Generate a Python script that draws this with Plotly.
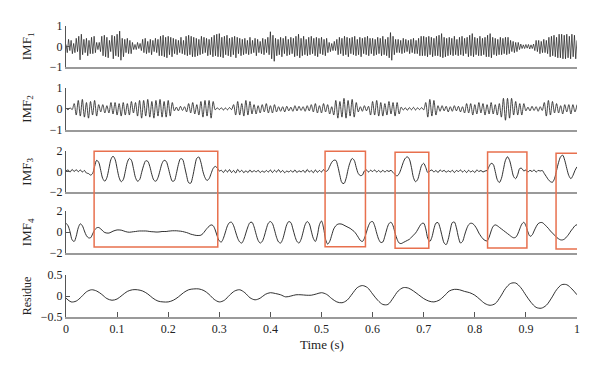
import plotly.graph_objects as go

# ---------------- data ----------------
x_ticks = [0, 0.1, 0.2, 0.3, 0.4, 0.5, 0.6, 0.7, 0.8, 0.9, 1]
x_tick_labels = ["0", "0.1", "0.2", "0.3", "0.4", "0.5", "0.6", "0.7", "0.8", "0.9", "1"]
x_title = "Time (s)"

# IMF1 sampled every 2.5 ms from t=0 to t=1
imf1 = [
    .1, -.3, .35, -.2, .3, -.35, .15, -.3, .4, -.25, .5, -.65, .6, -.4, .35, -.3, .4, -.45, .3, -.35,
    .45, -.35, .5, -.3, .2, -.15, .2, -.25, .5, -.45, .55, -.5, .45, -.55, .3, -.25, .55, -.6, .5, -.45,
    .6, -.5, .75, -.67, .4, -.5, .35, -.3, .4, -.35, .3, -.35, .2, -.15, .1, -.15, .2, -.1, .15, -.2,
    .35, -.3, .4, -.35, .25, -.3, .35, -.4, .3, -.25, .4, -.3, .35, -.45, .5, -.45, .55, -.5, .45, -.55,
    .5, -.4, .45, -.5, .4, -.35, .35, -.4, .3, -.3, .45, -.35, .3, -.4, .5, -.45, .55, -.4, .5, -.5,
    .45, -.5, .4, -.45, .35, -.4, .5, -.35, .45, -.3, .4, -.45, .35, -.4, .45, -.5, .55, -.45, .6, -.5,
    .63, -.5, .45, -.55, .5, -.4, .55, -.45, .4, -.5, .45, -.4, .5, -.55, .45, -.35, .4, -.45, .35, -.4,
    .4, -.35, .3, -.4, .45, -.35, .3, -.3, .4, -.45, .35, -.3, .25, -.35, .4, -.4, .35, -.3, .45, -.4,
    .72, -.6, .55, -.72, .4, -.45, .35, -.4, .45, -.5, .4, -.35, .5, -.45, .35, -.4, .45, -.35, .4, -.5,
    .5, -.45, .6, -.55, .4, -.45, .5, -.4, .35, -.45, .45, -.4, .5, -.35, .4, -.45, .45, -.5, .4, -.35,
    .45, -.4, .35, -.45, .4, -.3, .2, -.25, .15, -.2, .25, -.2, .35, -.4, .45, -.35, .4, -.45, .5, -.4,
    .45, -.5, .4, -.35, .45, -.4, .5, -.45, .35, -.4, .45, -.5, .4, -.35, .45, -.4, .5, -.45, .4, -.35,
    .4, -.45, .35, -.4, .45, -.35, .4, -.45, .5, -.4, .35, -.45, .45, -.55, .68, -.67, .5, -.4, .35, -.3,
    .35, -.3, .3, -.35, .4, -.3, .35, -.25, .3, -.35, .35, -.3, .4, -.35, .3, -.35, .4, -.45, .5, -.45,
    .5, -.45, .45, -.5, .5, -.4, .45, -.5, .4, -.45, .5, -.45, .55, -.5, .63, -.55, .45, -.5, .4, -.45,
    .45, -.4, .4, -.45, .5, -.4, .35, -.45, .45, -.4, .5, -.45, .4, -.35, .45, -.5, .55, -.45, .63, -.5,
    .45, -.4, .4, -.45, .5, -.45, .4, -.4, .45, -.5, .55, -.5, .63, -.55, .45, -.4, .4, -.45, .35, -.4,
    .45, -.4, .4, -.35, .45, -.4, .45, -.35, .3, -.25, .25, -.3, .2, -.25, .2, -.15, .12, -.1, .08, -.1,
    .1, -.08, .1, -.12, .08, -.1, .12, -.2, .3, -.25, .3, -.35, .25, -.3, .35, -.3, .3, -.35, .45, -.5,
    .5, -.45, .55, -.5, .45, -.55, .6, -.55, .6, -.6, .55, -.6, .6, -.55, .5, -.6, .6, -.5, .55, -.6,
    .3,
]

# IMF2 sampled every 4 ms
imf2 = [
    .03, -.05, .05, -.04, .25, -.3, .4, -.35, .45, -.4, .3, -.45, .35, -.3, .4, -.35, .2, -.15, .2, -.2, .15, -.2, .3, -.25, .3,
    -.3, .25, -.35, .3, -.3, .25, -.3, .35, -.2, .3, -.35, .4, -.45, .4, -.35, .45, -.4, .35, -.45, .4, -.35, .45, -.4, .35, -.4,
    .4, -.35, .3, -.1, .08, -.1, .12, -.08, .1, -.15, .25, -.2, .3, -.25, .2, -.3, .35, -.4, .4, -.35, .4, -.45, .35, -.05, .05,
    -.04, .05, -.06, .04, -.05, .06, -.04, .2, -.3, .35, -.3, .25, -.35, .4, -.3, .35, -.25, .2, -.25, .15, -.2, .2, -.15, .25, -.2,
    .15, -.2, .2, -.15, .1, -.12, .1, -.15, .12, -.1, .08, -.12, .15, -.1, .12, -.08, .1, -.12, .15, -.1, .2, -.15, .25, -.2, .15,
    -.2, .25, -.15, .2, -.25, .1, -.3, .4, -.45, .35, -.4, .5, -.45, .4, -.35, .45, -.4, .3, -.15, .1, -.12, .15, -.1, .12, -.3,
    .35, -.3, .4, -.35, .3, -.35, .25, -.3, .35, -.25, .3, -.35, .3, -.25, .08, -.06, .05, -.07, .06, -.05, .07, -.06, .05, -.04, .06,
    -.05, .3, -.4, .45, -.35, .4, -.3, .15, -.12, .15, -.1, .12, -.15, .1, -.12, .15, -.1, .12, -.15, .1, -.2, .25, -.2, .25, -.3,
    .2, -.25, .3, -.2, .25, -.3, .2, -.25, .3, -.25, .2, -.3, .25, -.4, .5, -.55, .5, -.45, .5, -.3, .35, -.3, .25, -.3, .25,
    -.1, .08, -.1, .12, -.08, .1, -.12, .1, -.08, .3, -.35, .4, -.3, .35, -.2, .25, -.2, .15, -.25, .2, -.15, .2, -.25, .2, -.15,
    .2,
]

# IMF3 sampled every 4 ms
imf3 = [
    .05, .15, -.05, .2, 0, .18, -.02, .15, -.05, .1, -.15, -.2, -.35, -.2, .5, 1.1, .9, .1, -.7, -.95, -.6, .3, 1.2, 1.5, 1.2,
    .3, -.6, -1.0, -.8, 0, .9, 1.28, 1.1, .3, -.6, -.95, -.8, -.1, .6, 1.05, 1.0, .5, -.3, -.85, -.95, -.6, .1, .8, 1.1, 1.0,
    .4, -.4, -.95, -.9, -.2, .7, 1.25, 1.2, .5, -.4, -1.1, -1.15, -.5, .5, 1.3, 1.42, .9, 0, -.6, -.88, -.7, -.2, .3, .5, .35,
    .05,
    .12, -.1, .15, -.05, .18, -.1, .1, -.15, .2, -.05,
    .12, -.12, .08, -.1, .15, -.08, .1, -.05, .12, -.1,
    .05, -.08, .1, -.05, .15, -.1, .12, -.05, .18, -.08,
    .1, -.12, .05, -.05, .1, -.08, .15, -.1, .08, -.05,
    .12, -.1, .2, -.05, .1, -.12, .15, -.08, .1, -.05,
    .18, 0,
    .1, .5, .9, 1.1, 1.1, .5, -.4, -1.1, -1.18, -.7, .2, .9, 1.28, 1.1, .4, -.2, -.4, -.35, .05, .15,
    -.05, .12, 0, .15, -.05, .1, -.08, .12, -.05, .1, 0, .12, -.1,
    -.3, -.43, -.2, .3, .9, 1.3, 1.44, 1.2, .4, -.6, -1.0, -.8, -.1, .6, .8, .4, -.1, .05,
    .15, -.05, .1, -.1, .15, 0, .12, -.08, .08, -.05, .12, -.1, .1, 0, .15, -.05, .1, -.1, .12, -.05, .08, -.1, .15, 0, .1, -.05, .05,
    .1, .5, .8, .7, 0, -.8, -1.08, -.7, .2, 1.1, 1.44, 1.1, .3, -.5, -.7, -.3, .3, .3, .05,
    .15, -.05, .12, 0, .15, -.05, .1, .05, .1,
    -.2, -.5, -.8, -1.0, -1.05, -.7, .1, .9, 1.45, 1.6, 1.1, .3, -.4, -.7, -.4, .1, .46,
]

# IMF4 sampled every 4 ms
imf4 = [
    .84, .6, 0, -.75, -.9, -.4, .4, .78, .6, .1, -.35, -.55, -.55, -.2, .2, .4, .43, .3, .1, -.05, -.1, -.1, -.02, .08, .15,
    .2, .2, .18, .12, .05, 0, -.02, 0, .03, .05, .08, .1, .1, .1, .1, .08, .05, .03, .02, 0, 0, .02, .05, .05, .05,
    .08, .1, .12, .12, .12, .1, .08, .05, 0, -.05, -.12, -.2, -.25, -.3, -.33, -.33, -.3, -.15, .1, .35, .55, .68, .6, .2, -.4,
    -.85, -.95, -.6, 0, .6, .9, .93, .6, 0, -.6, -.95, -1.05, -.7, -.1, .5, .9, .93, .5, -.2, -.8, -1.05, -.9, -.4, .3, .85,
    1.0, .8, .2, -.5, -.95, -1.05, -.7, 0, .7, 1.0, .9, .3, -.4, -.9, -1.05, -.7, 0, .7, 1.0, .8, .1, -.6, -.9, -.3, .7,
    1.05, .4, -.7, -1.15, -.9, -.3, .3, .6, .75, .78, .75, .65, .55, .45, .35, .2, .05, -.2, -.5, -.8, -.9, -.6, 0, .6, .95,
    1.0, .6, -.1, -.7, -1.0, -.95, -.4, .3, .8, .93, .6, -.1, -.7, -1.05, -1.1, -1.0, -.9, -.8, -.7, -.5, -.3, -.1, .2, .55, .8,
    .84, .3, -.6, -.9, -.5, .3, .85, .9, .4, -.4, -1.05, -1.2, -.7, .2, .9, .95, .4, -.5, -1.05, -.9, -.3, .3, .7, .84, .8,
    .6, .3, -.1, -.4, -.65, -.8, -.85, -.5, .1, .55, .68, .6, .45, .3, .15, 0, -.15, -.3, -.45, -.55, -.5, -.2, .3, .75, .93,
    .6, 0, -.4, -.3, .1, .5, .8, .9, .9, .75, .55, .35, .1, -.1, -.3, -.5, -.65, -.75, -.75, -.65, -.45, -.2, .1, .35, .6,
    .7,
]

# Residue sampled every 10 ms
residue = [
    -.05, -.14, -.12, -.02, .1, .15, .12, .04, -.06, -.1,
    -.07, .02, .11, .15, .15, .12, .05, -.05, -.12, -.14,
    -.14, -.1, -.02, .08, .15, .17, .17, .13, .04, -.08,
    -.14, -.1, .02, .12, .15, .08, -.04, -.09, -.05, .04,
    .08, .06, .03, -.02, 0, .03, .03, .02, .02, .05,
    .08, .04, -.06, -.14, -.16, -.1, .05, .2, .25, .2,
    .05, -.1, -.2, -.2, -.05, .12, .2, .19, .12, .03,
    -.06, -.12, -.14, -.1, 0, .12, .16, .15, .11, .08,
    .02, -.08, -.18, -.22, -.18, -.02, .18, .3, .31, .2,
    .02, -.15, -.27, -.29, -.22, -.05, .15, .27, .27, .17,
    .03,
]

panel_labels = ["IMF<sub>1</sub>", "IMF<sub>2</sub>", "IMF<sub>3</sub>", "IMF<sub>4</sub>", "Residue"]
panel_series = [imf1, imf2, imf3, imf4, residue]
y_tick_values = [[-1, 0, 1], [-1, 0, 1], [-2, 0, 2], [-2, 0, 2], [-0.5, 0, 0.5]]
y_ranges = [[-1, 1], [-1, 1], [-2, 2], [-2, 2], [-0.5, 0.5]]

# highlighted time windows (s)
box_windows = [(0.055, 0.297), (0.507, 0.586), (0.644, 0.710), (0.825, 0.902), (0.959, 1.003)]

# ---------------- layout / style ----------------
FONT = "Liberation Serif, Times New Roman, serif"
domains = [[0.859, 1.0], [0.644, 0.787], [0.430, 0.570], [0.220, 0.364], [0.0, 0.144]]
label_y = [0.931, 0.716, 0.500, 0.292, 0.072]
box_y = [(0.2405, 0.570), (0.2416, 0.570), (0.236, 0.566), (0.237, 0.567), (0.234, 0.5625)]
line_shapes = ["linear", "spline", "spline", "spline", "spline"]
line_widths = [0.7, 0.8, 0.9, 0.9, 0.9]

fig = go.Figure()
layout = dict(
    width=600, height=371,
    margin=dict(l=66, r=23, t=26, b=54, autoexpand=False),
    paper_bgcolor="white", plot_bgcolor="white",
    showlegend=False,
    font=dict(family=FONT, size=12, color="#222"),
)

n = len(panel_series)
annotations = []
for i, series in enumerate(panel_series):
    k = "" if i == 0 else str(i + 1)
    fig.add_trace(go.Scatter(
        y=series, x0=0, dx=1 / (len(series) - 1),
        mode="lines",
        line=dict(color="#1a1a1a", width=line_widths[i], shape=line_shapes[i], smoothing=0.9),
        xaxis="x" + k, yaxis="y" + k,
        hoverinfo="skip",
    ))
    last = i == n - 1
    xa = dict(
        domain=[0, 1], range=[0, 1], anchor="y" + k,
        showline=True, linecolor="#9a9a9a", linewidth=2,
        showgrid=False, zeroline=False,
        showticklabels=last,
    )
    if last:
        xa.update(ticks="inside", ticklen=5, tickcolor="#555", tickwidth=1,
                  tickvals=x_ticks, ticktext=x_tick_labels,
                  tickfont=dict(family=FONT, size=12, color="#222"))
    else:
        xa.update(ticks="")
    layout["xaxis" + k] = xa
    layout["yaxis" + k] = dict(
        domain=domains[i], range=y_ranges[i], anchor="x" + k,
        showline=True, linecolor="#555", linewidth=1,
        showgrid=False, zeroline=False,
        ticks="inside", ticklen=4, tickcolor="#555", tickwidth=1,
        tickvals=y_tick_values[i],
        tickfont=dict(family=FONT, size=12, color="#222"),
    )
    annotations.append(dict(
        text=panel_labels[i], xref="paper", yref="paper",
        x=-0.076, y=label_y[i], xanchor="center", yanchor="middle",
        textangle=-90, showarrow=False,
        font=dict(family=FONT, size=13 if i < 4 else 12, color="#222"),
    ))

annotations.append(dict(
    text=x_title, xref="paper", yref="paper", x=0.5, y=-0.096,
    xanchor="center", yanchor="middle", showarrow=False,
    font=dict(family=FONT, size=13, color="#222"),
))

shapes = []
for (t0, t1), (yb, yt) in zip(box_windows, box_y):
    shapes.append(dict(
        type="rect", xref="x", yref="paper",
        x0=t0, x1=t1, y0=yb, y1=yt,
        line=dict(color="#E8704E", width=1.5),
        fillcolor="rgba(0,0,0,0)", layer="above",
    ))

layout["annotations"] = annotations
layout["shapes"] = shapes
fig.update_layout(**layout)

fig.write_html(
    "out.html",
    config={"displayModeBar": False, "staticPlot": True},
    post_script="document.body.style.margin='0';document.body.style.overflow='hidden';",
)
